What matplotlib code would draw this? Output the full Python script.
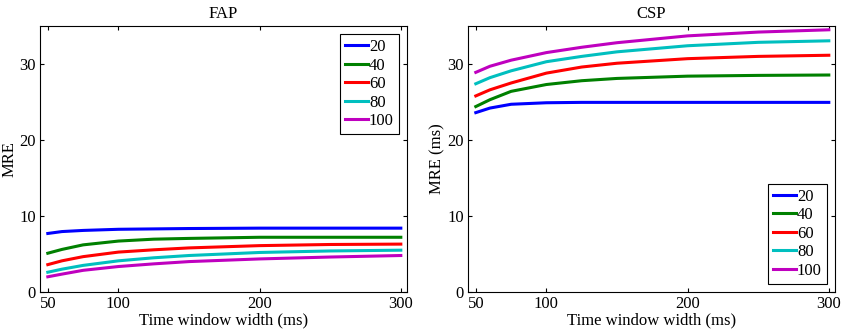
import matplotlib
matplotlib.use("Agg")
from matplotlib import pyplot as plt

# time window widths (ms)
x = [50, 60, 75, 100, 125, 150, 200, 250, 300]
labels = ['20', '40', '60', '80', '100']

fap = {
	'20':  [7.7, 7.95, 8.1, 8.25, 8.3, 8.35, 8.4, 8.4, 8.4],
	'40':  [5.1, 5.6, 6.2, 6.7, 6.95, 7.05, 7.2, 7.2, 7.2],
	'60':  [3.6, 4.1, 4.65, 5.25, 5.55, 5.8, 6.1, 6.25, 6.3],
	'80':  [2.6, 3.0, 3.5, 4.1, 4.5, 4.8, 5.2, 5.4, 5.5],
	'100': [2.0, 2.35, 2.85, 3.35, 3.7, 4.0, 4.35, 4.6, 4.8],
}
csp = {
	'20':  [23.6, 24.2, 24.7, 24.9, 24.95, 24.95, 24.95, 24.95, 24.95],
	'40':  [24.4, 25.3, 26.4, 27.3, 27.8, 28.1, 28.4, 28.5, 28.55],
	'60':  [25.8, 26.6, 27.5, 28.8, 29.6, 30.1, 30.7, 31.0, 31.15],
	'80':  [27.4, 28.2, 29.1, 30.3, 31.0, 31.6, 32.4, 32.85, 33.05],
	'100': [28.9, 29.7, 30.5, 31.5, 32.2, 32.8, 33.7, 34.2, 34.5],
}

colors = [(0, 0, 1), (0, 0.5, 0), (1, 0, 0), (0, 0.75, 0.75), (0.75, 0, 0.75)]

plt.rcParams['font.family'] = 'Liberation Serif'
plt.rcParams['font.size'] = 12

fig = plt.figure(figsize=(8.43, 3.29), dpi=100)
ax1 = fig.add_axes([0.0475, 0.1125, 0.4355, 0.8085])
ax2 = fig.add_axes([0.5552, 0.1125, 0.4355, 0.8085])


def draw(ax, data, title, ylabel, loc):
	for lab, c in zip(labels, colors):
		ax.plot(x, data[lab], color=c, lw=2.2, label=lab)
	ax.set_xlim(44.5, 304.5)
	ax.set_ylim(0, 35)
	ax.set_xticks([50, 100, 200, 300])
	ax.set_yticks([0, 10, 20, 30])
	ax.tick_params(direction='in', top=True, right=True, length=3, pad=3)
	ax.set_title(title, fontsize=12, pad=6)
	ax.set_xlabel('Time window width (ms)', labelpad=0)
	ax.set_ylabel(ylabel, labelpad=1)
	for s in ax.spines.values():
		s.set_linewidth(0.8)
	leg = ax.legend(loc=loc, fancybox=False, edgecolor='black', framealpha=1,
		handlelength=1.4, handletextpad=0.05, labelspacing=0.15, borderpad=0.3,
		borderaxespad=0.5)
	leg.get_frame().set_linewidth(0.8)


draw(ax1, fap, 'FAP', 'MRE', 'upper right')
draw(ax2, csp, 'CSP', 'MRE (ms)', 'lower right')

fig.savefig('out.png', dpi=100)
